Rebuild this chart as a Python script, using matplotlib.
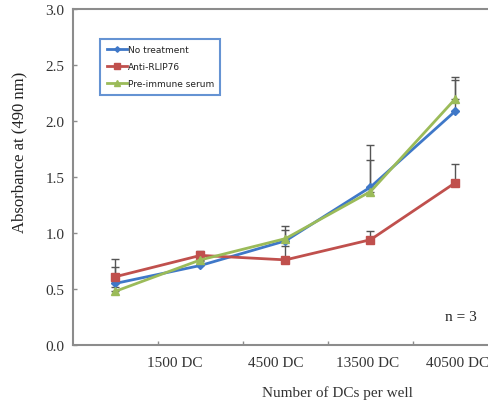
import numpy as np
import matplotlib
matplotlib.use("Agg")
import matplotlib.pyplot as plt

# category labels shown under the axis (first point has no label in the source)
CATEGORY_LABELS = ["1500 DC", "4500 DC", "13500 DC", "40500 DC"]
LABEL_POS = [0.70, 1.89, 2.96, 4.02]

X = np.arange(5)

no_treatment = [0.55, 0.71, 0.93, 1.41, 2.09]
no_treatment_err = [0.15, 0.04, 0.13, 0.38, 0.28]

anti_rlip76 = [0.61, 0.80, 0.76, 0.94, 1.45]
anti_rlip76_err = [0.16, 0.04, 0.12, 0.08, 0.17]

pre_immune = [0.48, 0.76, 0.95, 1.37, 2.20]
pre_immune_err = [0.04, 0.05, 0.08, 0.28, 0.19]

SERIES = [
    ("No treatment", no_treatment, no_treatment_err, "#3F78C8", "D", 4),
    ("Anti-RLIP76", anti_rlip76, anti_rlip76_err, "#C0504D", "s", 6),
    ("Pre-immune serum", pre_immune, pre_immune_err, "#9BBB59", "^", 6),
]

SERIF = "Liberation Serif"
AXIS_GRAY = "#8C8C8C"

fig = plt.figure(figsize=(4.89, 4.02), dpi=100)
ax = fig.add_axes([73 / 489, 56 / 402, 425 / 489, 336 / 402])

handles = []
for name, y, err, color, marker, ms in SERIES:
    ax.errorbar(X, y, yerr=[np.zeros(len(err)), err], fmt="none",
                ecolor="#555555", elinewidth=1.0, capsize=3, capthick=1.0,
                zorder=2)
    h, = ax.plot(X, y, color=color, lw=2.0, marker=marker, ms=ms,
                 markeredgecolor=color, label=name, zorder=3)
    handles.append(h)

ax.set_xlim(-0.5, 4.5)
ax.set_ylim(0, 3.0)
ax.set_yticks(np.arange(0, 3.01, 0.5))
ax.set_yticklabels([f"{v:.1f}" for v in np.arange(0, 3.01, 0.5)],
                   fontfamily=SERIF, fontsize=11, color="#333333")
ax.set_xticks([0.5, 1.5, 2.5, 3.5])
ax.set_xticklabels([])
ax.tick_params(axis="both", direction="in", length=3, color=AXIS_GRAY,
               width=1.0)
ax.tick_params(axis="y", pad=6)

for lab, pos in zip(CATEGORY_LABELS, LABEL_POS):
    ax.text(pos, -0.052, lab, transform=ax.get_xaxis_transform(),
            ha="center", va="center", fontfamily=SERIF, fontsize=11,
            color="#333333")

for side in ["left", "bottom", "top"]:
    ax.spines[side].set_color(AXIS_GRAY)
    ax.spines[side].set_linewidth(1.5)
ax.spines["right"].set_visible(False)

fig.text(19 / 489, 1 - 152 / 402, "Absorbance at (490 nm)", rotation=90,
         ha="center", va="center", fontfamily=SERIF, fontsize=12,
         color="#222222")
fig.text(337 / 489, 1 - 393 / 402, "Number of DCs per well",
         ha="center", va="center", fontfamily=SERIF, fontsize=11,
         color="#333333")
fig.text(461 / 489, 1 - 318 / 402, "n = 3", ha="center", va="center",
         fontfamily=SERIF, fontsize=11, color="#222222")

leg = ax.legend(handles=handles, loc="upper left",
                bbox_to_anchor=(0.054, 0.925), fontsize=6.5,
                frameon=True, fancybox=False, handlelength=2.2,
                handletextpad=0.1, borderpad=0.7, labelspacing=0.9,
                markerscale=0.7)
leg.get_frame().set_edgecolor("#3F78C8")
leg.get_frame().set_linewidth(1.5)
for t in leg.get_texts():
    t.set_color("#222222")

fig.savefig("out.png", dpi=100)
